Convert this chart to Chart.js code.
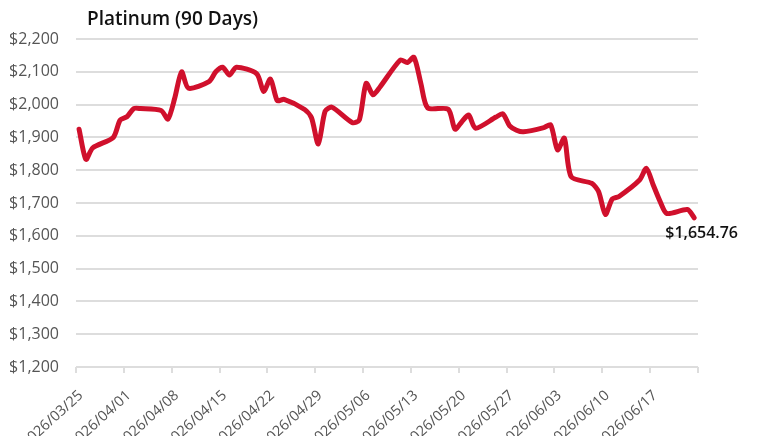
<!DOCTYPE html>
<html><head><meta charset="utf-8">
<script src="https://cdn.jsdelivr.net/npm/chart.js@4.4.1/dist/chart.umd.min.js"></script>
<style>html,body{margin:0;padding:0;background:#fff;overflow:hidden}#wrap{width:758px;height:436px;position:relative}</style>
</head><body><div id="wrap"><canvas id="c" width="758" height="436"></canvas></div>
<script>
const chartTitle = 'Platinum (90 Days)';
const startDate = '2026-03-25';
const tickLabels = ['2026/03/25','2026/04/01','2026/04/08','2026/04/15','2026/04/22','2026/04/29','2026/05/06','2026/05/13','2026/05/20','2026/05/27','2026/06/03','2026/06/10','2026/06/17',''];
const dates = ['2026-03-25','2026-03-26','2026-03-27','2026-03-30','2026-03-31','2026-04-01','2026-04-02','2026-04-03',
'2026-04-06','2026-04-07','2026-04-08','2026-04-09','2026-04-10','2026-04-13','2026-04-14','2026-04-15','2026-04-16','2026-04-17',
'2026-04-20','2026-04-21','2026-04-22','2026-04-23','2026-04-24','2026-04-27','2026-04-28','2026-04-29','2026-04-30','2026-05-01',
'2026-05-04','2026-05-05','2026-05-06','2026-05-07','2026-05-08','2026-05-11','2026-05-12','2026-05-13','2026-05-14','2026-05-15',
'2026-05-18','2026-05-19','2026-05-20','2026-05-21','2026-05-22','2026-05-25','2026-05-26','2026-05-27','2026-05-28','2026-05-29',
'2026-06-01','2026-06-02','2026-06-03','2026-06-04','2026-06-05','2026-06-08','2026-06-09','2026-06-10','2026-06-11','2026-06-12',
'2026-06-15','2026-06-16','2026-06-17','2026-06-18','2026-06-19','2026-06-22','2026-06-23'];
const prices = [1925,1833,1868,1900,1953,1963,1988,1988,
1982,1956,2020,2100,2050,2070,2100,2114,2090,2114,
2094,2040,2078,2012,2016,1985,1960,1880,1980,1992,
1945,1953,2065,2030,2053,2136,2128,2144,2065,1990,
1986,1925,1948,1968,1928,1962,1972,1935,1922,1917,
1930,1938,1862,1898,1780,1760,1735,1665,1712,1720,
1770,1806,1755,1705,1668,1680,1654.76];
const lastLabel = '$1,654.76';

const DAY = 86400000;
const t0 = Date.parse(startDate);
const points = dates.map((d, i) => ({ x: (Date.parse(d) - t0) / DAY, y: prices[i] }));
const shift = 0.45;

const overlay = {
  id: 'overlay',
  afterDraw(chart) {
    const ctx = chart.ctx;
    ctx.save();
    ctx.fillStyle = '#111';
    ctx.textBaseline = 'alphabetic';
    ctx.textAlign = 'left';
    ctx.font = '600 19px "Open Sans"';
    ctx.fillText(chartTitle, 87, 25);
    const meta = chart.getDatasetMeta(0);
    const el = meta.data[meta.data.length - 1];
    ctx.font = '600 16px "Open Sans"';
    ctx.fillText(lastLabel, el.x - 29, el.y + 20);
    ctx.restore();
  }
};

new Chart(document.getElementById('c'), {
  type: 'line',
  data: { datasets: [{
    data: points,
    borderColor: '#D0102C',
    borderWidth: 5,
    tension: 0.25,
    pointRadius: 0,
    borderCapStyle: 'round',
    borderJoinStyle: 'round',
    clip: false
  }]},
  options: {
    responsive: false,
    animation: false,
    layout: { padding: { top: 39, right: 60, left: 0, bottom: 0 } },
    plugins: { legend: { display: false }, tooltip: { enabled: false }, title: { display: false } },
    scales: {
      x: {
        type: 'linear',
        min: -shift,
        max: (tickLabels.length - 1) * 7 - shift,
        afterBuildTicks(scale) { scale.ticks = tickLabels.map((_, k) => ({ value: k * 7 - shift })); },
        afterFit(scale) { scale.height = 69; },
        grid: { drawOnChartArea: false, drawTicks: true, tickLength: 6, color: '#dddddd', lineWidth: 2 },
        border: { display: false },
        ticks: {
          autoSkip: false, minRotation: 42, maxRotation: 42, padding: 14, labelOffset: 5,
          color: '#555555', font: { family: '"Open Sans"', size: 14.5 },
          callback: (v, i) => tickLabels[i]
        }
      },
      y: {
        min: 1200, max: 2200,
        afterFit(scale) { scale.width = 76; },
        grid: { color: '#dddddd', lineWidth: 2, drawTicks: false },
        border: { display: false },
        ticks: {
          stepSize: 100, padding: 17,
          color: '#555555', font: { family: '"Open Sans"', size: 16 },
          callback: v => '$' + v.toLocaleString('en-US')
        }
      }
    }
  },
  plugins: [overlay]
});
</script></body></html>
